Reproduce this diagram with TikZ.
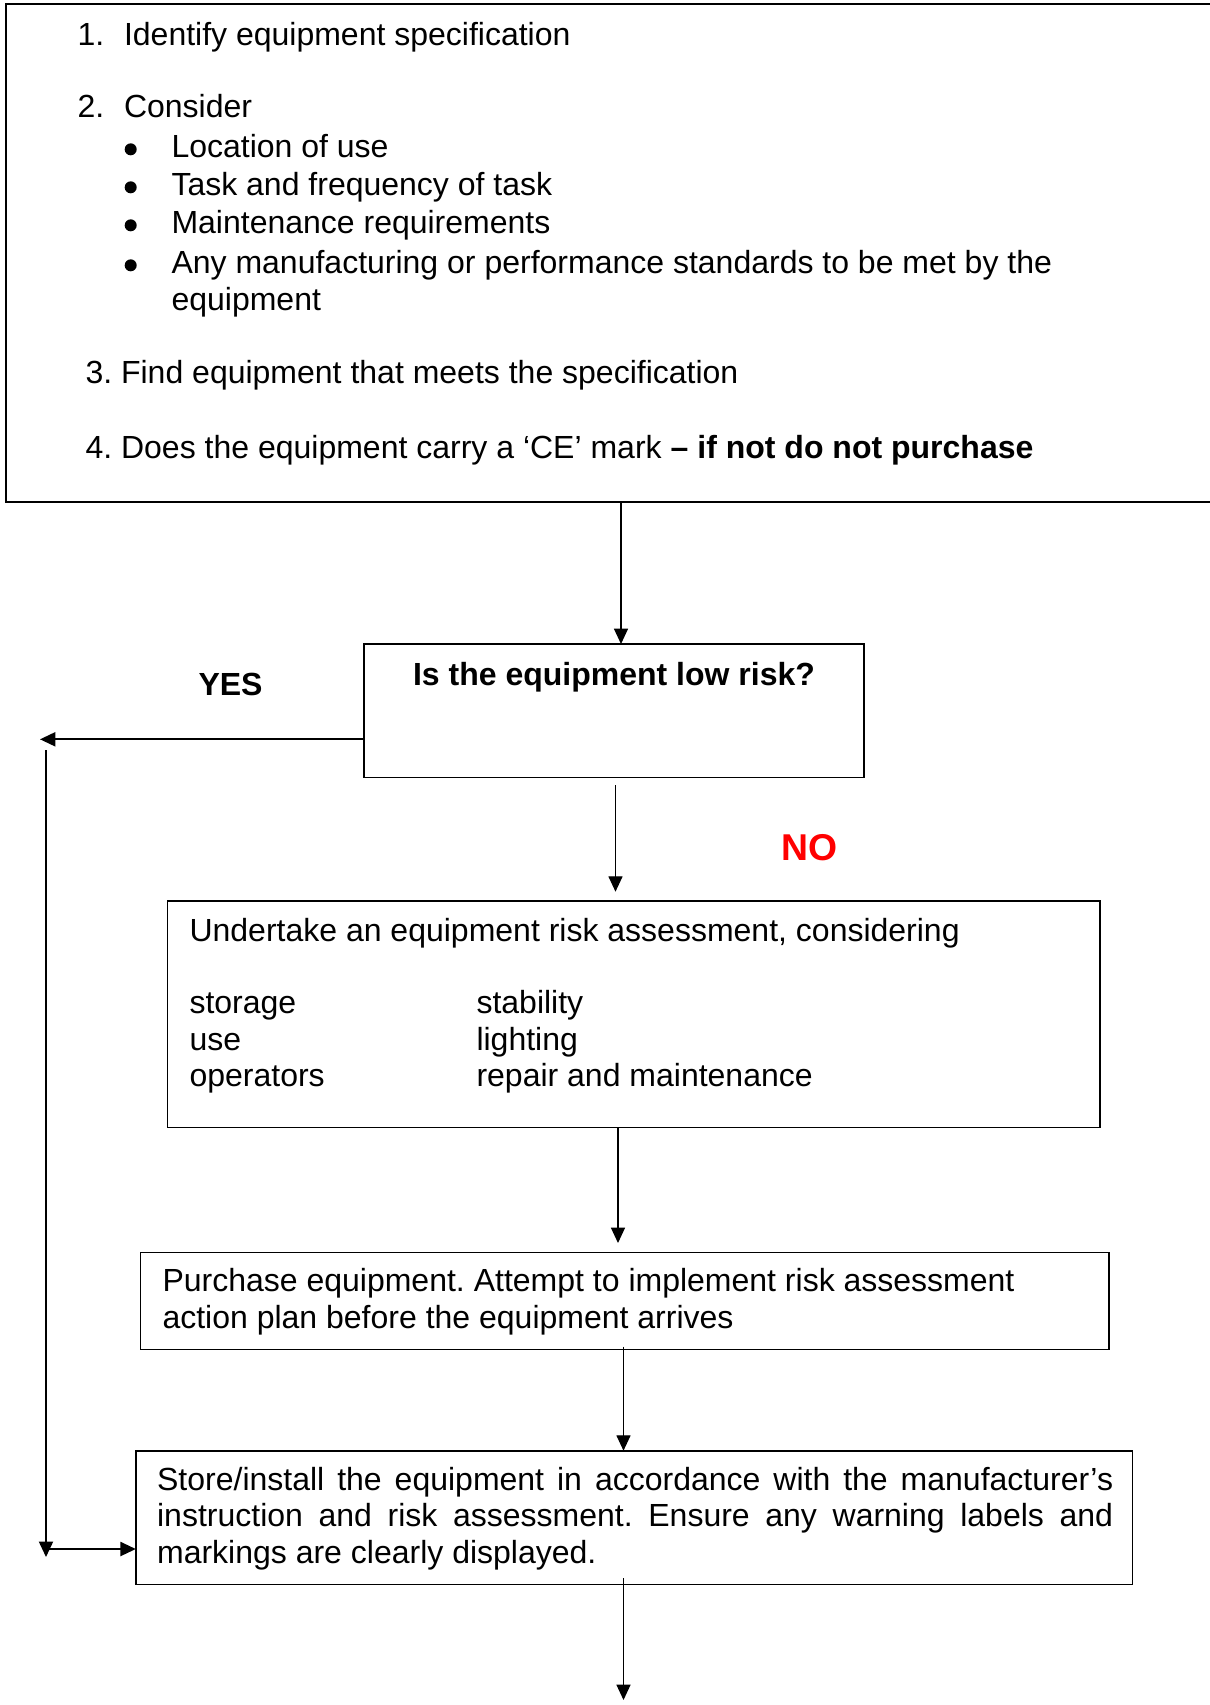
\documentclass[tikz,border=0pt]{standalone}
\usepackage{fontspec}
\setmainfont{Liberation Sans}
\usetikzlibrary{arrows.meta}
\frenchspacing
\begin{document}
\begin{tikzpicture}[x=0.375pt,y=-0.375pt,
  boxst/.style={draw, line width=0.6pt, inner sep=0pt, outer sep=0pt, anchor=north west},
  txt/.style={anchor=base west, inner sep=0pt, font=\fontsize{12}{14}\selectfont},
  btxt/.style={txt, font=\fontsize{12}{14}\selectfont\bfseries},
  bul/.style={circle, fill=black, inner sep=0pt, minimum size=4.5pt},
  arr/.style={line width=0.45pt, -{Triangle[length=5.8pt,width=5.3pt]}},
  thickarr/.style={line width=0.75pt, -{Triangle[length=5.8pt,width=5.3pt]}}]
\useasboundingbox (0,0) rectangle (1210,1705);
\fill[white] (0,0) rectangle (1210,1705);

% boxes
\node[boxst, minimum width=454.5pt, minimum height=186.75pt] (b1) at (6,4) {};
\node[boxst, minimum width=187.5pt, minimum height=50.1pt] (b2) at (364,644) {};
\node[boxst, minimum width=349.7pt, minimum height=84.9pt] (b3) at (167.4,901) {};
\node[boxst, minimum width=363.15pt, minimum height=36.4pt] (b4) at (140.4,1252.3) {};
\node[boxst, minimum width=373.8pt, minimum height=50.1pt] (b5) at (135.8,1450.7) {};

% top box text
\node[txt] (n1) at (77,45) {1.};
\node[txt] (t1) at (123.5,45) {Identify equipment specification};
\node[txt] (n2) at (77,117) {2.};
\node[txt] (t2) at (123.5,117) {Consider};
\node[bul] (u1) at (130.7,149.3) {};
\node[txt] (v1) at (171,157) {Location of use};
\node[bul] (u2) at (130.7,187.3) {};
\node[txt] (v2) at (171,195) {Task and frequency of task};
\node[bul] (u3) at (130.7,225.3) {};
\node[txt] (v3) at (171,233) {Maintenance requirements};
\node[bul] (u4) at (130.7,265.3) {};
\node[txt] (v4) at (171,273) {Any manufacturing or performance standards to be met by the};
\node[txt] (v5) at (171,310) {equipment};
\node[txt] (t3) at (85,383) {3. Find equipment that meets the specification};
\node[txt] (t4) at (85,458) {4. Does the equipment carry a ‘CE’ mark \textbf{– if not do not purchase}};

% decision
\node[btxt, anchor=base] (q) at (614,685) {Is the equipment low risk?};
\node[btxt] (yes) at (198,695) {YES};
\node[txt, font=\fontsize{14}{16}\selectfont\bfseries, text=red] (no) at (780.6,860) {NO};

% box 3 text
\node[txt] (r0) at (189,941.7) {Undertake an equipment risk assessment, considering};
\node[txt] (r1) at (189,1013) {storage};
\node[txt] (r2) at (189,1050) {use};
\node[txt] (r3) at (189,1086.7) {operators};
\node[txt] (s1) at (476,1013) {stability};
\node[txt] (s2) at (476,1050) {lighting};
\node[txt] (s3) at (476,1086.7) {repair and maintenance};

% box 4 text
\node[txt] (p1) at (162,1291.7) {Purchase equipment. Attempt to implement risk assessment};
\node[txt] (p2) at (162,1328.3) {action plan before the equipment arrives};

% box 5 text
\node[txt] (w1) at (156.6,1490) {\hbox to 358.5pt{Store/install the equipment in accordance with the manufacturer’s}};
\node[txt] (w2) at (156.6,1526.7) {\hbox to 358.5pt{instruction and risk assessment. Ensure any warning labels and}};
\node[txt] (w3) at (156.6,1563.3) {markings are clearly displayed.};

% connector coordinates
\coordinate (a1s) at (621,502);
\coordinate (a3s) at (615.5,785);
\coordinate (a3e) at (615.5,891.7);
\coordinate (a4s) at (618,1127.4);
\coordinate (a4e) at (618,1243);
\coordinate (a5s) at (623.5,1346.7);
\coordinate (a6s) at (623.5,1578);
\coordinate (a6e) at (623.5,1700);
\coordinate (yesl) at (364,739.3);
\coordinate (yese) at (40,739.3);
\coordinate (lp1) at (46,750);
\coordinate (lp2) at (46,1557);
\coordinate (lp3) at (46,1549);

% connectors
\draw[arr] (a1s) -- (a1s |- b2.north);
\draw[thickarr] (yesl) -- (yese);
\draw[arr] (a3s) -- (a3e);
\draw[arr] (a4s) -- (a4e);
\draw[arr] (a5s) -- (a5s |- b5.north);
\draw[arr] (a6s) -- (a6e);
\draw[arr, line width=0.6pt] (lp1) -- (lp2);
\draw[thickarr] (lp3) -- (lp3 -| b5.west);
\end{tikzpicture}
\end{document}
